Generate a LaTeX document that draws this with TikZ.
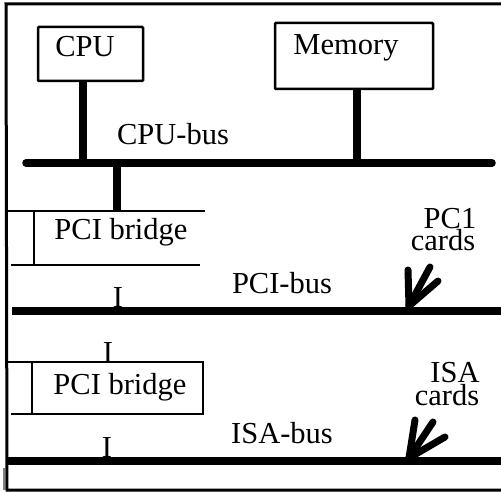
\documentclass[tikz,border=0pt]{standalone}
\usepackage{fontspec}
\setmainfont{Liberation Serif}
\begin{document}
\begin{tikzpicture}[x=1pt,y=-1pt,
  lbl/.style={inner sep=0pt,anchor=base,font=\fontsize{30.5}{32}\selectfont},
  boxl/.style={draw,line width=2.5pt,rounded corners=1pt,inner sep=0pt},
  frame/.style={line width=3pt},
  bus/.style={line width=7.5pt,line cap=round},
  stem/.style={line width=8pt},
  thin/.style={line width=2.5pt},
  card/.style={line width=7pt,line cap=round}]
\useasboundingbox (0,0) rectangle (501,492);
% outer frame
\draw[frame] (501,4) -- (6,4) -- (7,490) -- (501,490);
\draw[gray,line width=1.2pt] (4,468) -- (4,490);
% boxes
\node[boxl,minimum width=105pt,minimum height=54pt] (cpu) at (90.5,54) {};
\node[lbl] (cputxt) at (85,57) {CPU};
\node[boxl,minimum width=158pt,minimum height=66pt] (mem) at (354,56) {};
\node[lbl] (memtxt) at (346,55) {Memory};
% CPU bus
\coordinate (cbL) at (26,163);
\coordinate (cbR) at (492,163);
\draw[bus] (cbL) -- (cbR);
\node[lbl] (cpubus) at (173,145) {CPU-bus};
\draw[stem] (cpu.south -| 83,0) -- (83,163);
\draw[stem] (mem.south -| 357,0) -- (357,163);
% first PCI bridge
\coordinate (b1tl) at (7,211);
\coordinate (b1tr) at (205,211);
\draw[stem] (117,163) -- (117,211);
\draw[thin] (b1tl) -- (b1tr);
\draw[thin] (11,265) -- (200,265);
\draw[thin] (34,211) -- (34,265);
\node[lbl] (br1) at (121,240) {PCI bridge};
% PCI bus
\coordinate (pbL) at (12,311);
\coordinate (pbR) at (501,311);
\draw[bus,line cap=butt] (pbL) -- (pbR);
\node[lbl] (pcibus) at (282,293) {PCI-bus};
\node[lbl] (i1) at (118,307) {I};
\node[lbl] (pc1) at (450,228) {PC1};
\node[lbl] (pcards) at (443,251) {cards};
\coordinate (pk) at (409,306);
\draw[card] (pk) -- (408,270);
\draw[card] (pk) -- (430,267);
\draw[card] (pk) -- (438,281);
% second PCI bridge
\node[lbl] (i2) at (108,362) {I};
\draw[thin] (7,362) -- (203,362) -- (203,414) -- (11,414);
\draw[thin] (32,362) -- (32,414);
\node[lbl] (br2) at (120,394) {PCI bridge};
% ISA bus
\coordinate (ibL) at (7,461);
\coordinate (ibR) at (501,461);
\draw[bus,line cap=butt] (ibL) -- (ibR);
\draw[line width=3pt] (403,463) -- (450,463);
\node[lbl] (isabus) at (282,443) {ISA-bus};
\node[lbl] (i3) at (107,457) {I};
\node[lbl] (isa) at (455,382) {ISA};
\node[lbl] (icards) at (447,405) {cards};
\coordinate (ik) at (409,458);
\draw[card] (ik) -- (415,420);
\draw[card] (ik) -- (433,422);
\draw[card] (ik) -- (445,437);
\end{tikzpicture}
\end{document}
